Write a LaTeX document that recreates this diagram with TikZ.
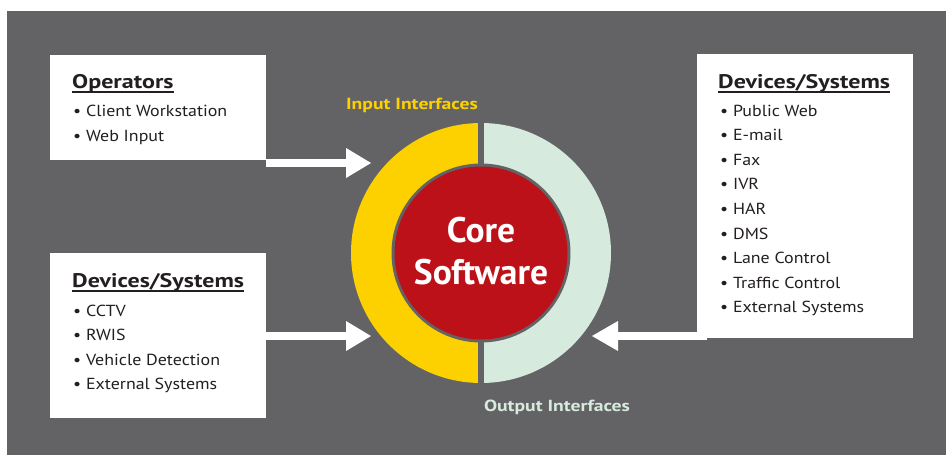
\documentclass[tikz,border=0pt]{standalone}
\usepackage{fontspec}
\setmainfont{PT Sans}[FakeStretch=1.12, BoldFeatures={FakeStretch=1.22}]
\newfontfamily\corefont{PT Sans}
\usetikzlibrary{calc}
\definecolor{bg}{HTML}{636365}
\definecolor{inyel}{HTML}{FDD100}
\definecolor{outgrn}{HTML}{D6EADD}
\definecolor{corered}{HTML}{BC1118}
\definecolor{txt}{HTML}{231F20}
\begin{document}
\begin{tikzpicture}[x=1pt,y=-1pt,
  panel/.style={fill=white, draw=none, anchor=north west, minimum width=216pt, inner sep=0pt, outer sep=0pt},
  heading/.style={anchor=base west, inner sep=0pt, font=\bfseries\fontsize{19.7}{19.7}\selectfont, text=txt},
  item/.style={anchor=base west, inner sep=0pt, font=\fontsize{16}{16}\selectfont, text=txt},
  ulined/.style={txt, line width=2pt},
  shaft/.style={white, line width=8pt},
  head/.style={fill=white},
  iflabel/.style={anchor=base, inner sep=0pt, font=\bfseries\fontsize{16.1}{16.1}\selectfont},
  corelabel/.style={anchor=base, inner sep=0pt, text=white, font=\corefont\bfseries\fontsize{35.5}{35.5}\selectfont}
]
% canvas and dark backdrop
\useasboundingbox (0,0) rectangle (946,455);
\fill[white] (0,0) rectangle (946,455);
\fill[bg] (7,11) rectangle (946,455);

% white panels
\node[panel, minimum height=105pt] (ops) at (50,55) {};
\node[panel, minimum height=165pt] (devin) at (50,253) {};
\node[panel, minimum height=284pt] (devout) at (697,54) {};

% operators panel
\node[heading] (opsh) at (72,88) {Operators};
\draw[ulined] ($(opsh.base west)+(0,4)$) -- ($(opsh.base east)+(0,4)$);
\node[item] (ops1) at (73,116) {• Client Workstation};
\node[item] (ops2) at (73,141) {• Web Input};

% input devices panel
\node[heading] (dinh) at (72,287) {Devices/Systems};
\draw[ulined] ($(dinh.base west)+(0,4)$) -- ($(dinh.base east)+(0,4)$);
\node[item] (din1) at (73,316) {• CCTV};
\node[item] (din2) at (73,340) {• RWIS};
\node[item] (din3) at (73,365) {• Vehicle Detection};
\node[item] (din4) at (73,389) {• External Systems};

% output devices panel
\node[heading] (douth) at (718,88) {Devices/Systems};
\draw[ulined] ($(douth.base west)+(0,4)$) -- ($(douth.base east)+(0,4)$);
\foreach \t [count=\i from 0] in {Public Web,E-mail,Fax,IVR,HAR,DMS,Lane Control,Traffic Control,External Systems}
  \node[item] (dout\i) at (720,{116+24.6*\i}) {• \t};

% interface ring around the core
\coordinate (c) at (481,253);
\fill[inyel] ($(c)+(0,-130)$) arc[start angle=270, end angle=90, radius=130] -- cycle;
\fill[outgrn] ($(c)+(0,-130)$) arc[start angle=-90, end angle=90, radius=130] -- cycle;
\fill[bg] ($(c)+(-3,-132)$) rectangle ($(c)+(3,132)$);
\fill[bg] (c) circle[radius=89.5];
\node[circle, fill=corered, minimum size=173pt, inner sep=0pt] (core) at (c) {};
\node[corelabel] (core1) at (481,242) {Core};
\node[corelabel] (core2) at (481,284) {Software};

\node[iflabel, text=inyel] (inlbl) at (412,109) {Input Interfaces};
\node[iflabel, text=outgrn] (outlbl) at (557,411) {Output Interfaces};

% arrows
\coordinate (a1b) at (346,163);
\coordinate (a1t) at (371,163);
\draw[shaft] (ops.south east |- a1b) -- (a1b);
\fill[head] ($(a1b)+(0,-15)$) -- (a1t) -- ($(a1b)+(0,15)$) -- cycle;

\coordinate (a2b) at (346,336);
\coordinate (a2t) at (371,336);
\draw[shaft] (devin.east |- a2b) -- (a2b);
\fill[head] ($(a2b)+(0,-15)$) -- (a2t) -- ($(a2b)+(0,15)$) -- cycle;

\coordinate (a3b) at (618,336);
\coordinate (a3t) at (592,336);
\draw[shaft] ($(devout.west |- a3b)+(10,0)$) -- (a3b);
\fill[head] ($(a3b)+(0,-15)$) -- (a3t) -- ($(a3b)+(0,15)$) -- cycle;
\end{tikzpicture}
\end{document}
